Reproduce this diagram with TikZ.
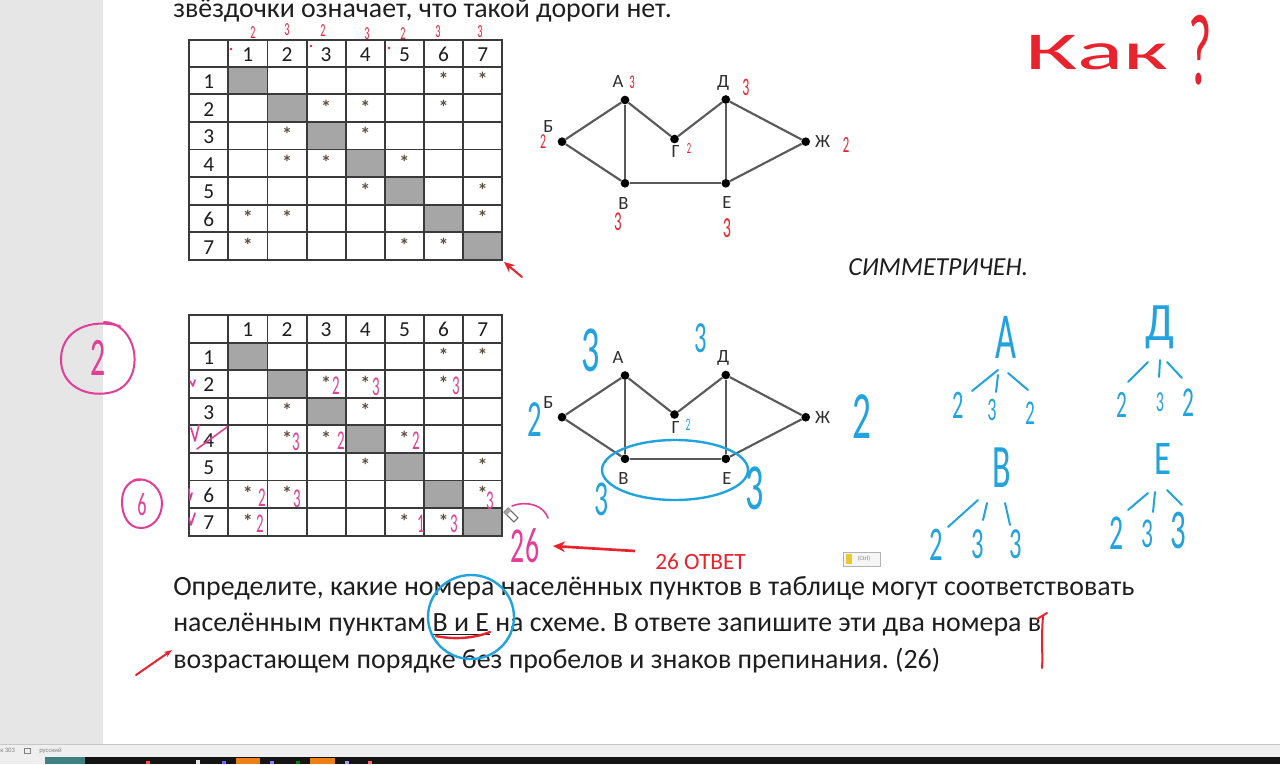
\documentclass[tikz,border=0pt]{standalone}
\usepackage{fontspec}
\usepackage{graphicx}
\setmainfont{Carlito}
\frenchspacing
\usetikzlibrary{arrows.meta}
\definecolor{pagegray}{HTML}{E6E6E6}
\definecolor{statusc}{HTML}{EFEFEF}
\definecolor{cellgray}{HTML}{A6A6A6}
\definecolor{gridc}{HTML}{3A3A3A}
\definecolor{edgec}{HTML}{5A5A5A}
\definecolor{labc}{HTML}{2E2E2E}
\definecolor{txt}{HTML}{1E1E1E}
\definecolor{starc}{HTML}{5E4E3E}
\definecolor{hred}{HTML}{E8232E}
\definecolor{hpink}{HTML}{E23D97}
\definecolor{hblue}{HTML}{22A3DD}
\newcommand{\hw}[2]{\scalebox{0.8}[1.45]{\fontsize{#1}{#1}\selectfont #2}}
\newcommand{\drawtable}[4]{%
  \foreach \k in {1,...,7} {
    \fill[cellgray] ({228.3+(\k-1)*39.14},{#3+(\k-1)*#4}) rectangle ++(39.14,#4);
  }
  \foreach \k in {0,...,6} {
    \draw[gridc, line width=1.4pt] (189.3,{#3+\k*#4}) -- (502.3,{#3+\k*#4});
  }
  \foreach \k in {0,...,6} {
    \draw[gridc, line width=1.4pt] ({228.3+\k*39.14},#2) -- ({228.3+\k*39.14},{#3+7*#4});
  }
  \draw[gridc, line width=1.4pt] (189.3,#2) rectangle (502.3,{#3+7*#4});
  \foreach \k in {1,...,7} {
    \node[tnum] (#1c\k) at ({228.3+(\k-0.5)*39.14},{(#2+#3)/2+1}) {\k};
    \node[tnum] (#1r\k) at (208.8,{#3+(\k-0.5)*#4+1}) {\k};
  }
  \foreach \r/\c in {1/6,1/7,2/3,2/4,2/6,3/2,3/4,4/2,4/3,4/5,5/4,5/7,6/1,6/2,6/7,7/1,7/5,7/6} {
    \node[astx] (#1s\r\c) at ({228.3+(\c-0.5)*39.14},{#3+(\r-0.5)*#4-1}) {*};
  }
}
\newcommand{\drawgraph}[1]{%
  \node[gdot] (#1A) at (625,100) {};
  \node[gdot] (#1B) at (562,141.7) {};
  \node[gdot] (#1G) at (674.5,139) {};
  \node[gdot] (#1D) at (725.8,99.5) {};
  \node[gdot] (#1Z) at (805.7,141.7) {};
  \node[gdot] (#1V) at (625,183.3) {};
  \node[gdot] (#1E) at (725.8,183.3) {};
  \draw[gedge] (#1B) -- (#1A);
  \draw[gedge] (#1B) -- (#1V);
  \draw[gedge] (#1A) -- (#1V);
  \draw[gedge] (#1A) -- (#1G);
  \draw[gedge] (#1G) -- (#1D);
  \draw[gedge] (#1D) -- (#1E);
  \draw[gedge] (#1D) -- (#1Z);
  \draw[gedge] (#1Z) -- (#1E);
  \draw[gedge] (#1V) -- (#1E);
  \node[glab] (#1Al) at (618,82) {А};
  \node[glab] (#1Dl) at (723,82.5) {Д};
  \node[glab] (#1Bl) at (548.5,127) {Б};
  \node[glab] (#1Gl) at (675.5,152) {Г};
  \node[glab] (#1Zl) at (822.5,142) {Ж};
  \node[glab] (#1Vl) at (623.5,203.5) {В};
  \node[glab] (#1El) at (727,203) {Е};
}
\begin{document}
\begin{tikzpicture}[x=0.75pt,y=-0.75pt,
  hr/.style={text=hred, inner sep=0pt},
  hp/.style={text=hpink, inner sep=0pt},
  hb/.style={text=hblue, inner sep=0pt},
  hline/.style={line width=1.5pt, line cap=round, line join=round},
  tnum/.style={text=txt, inner sep=0pt, font=\fontsize{16}{16}\selectfont},
  astx/.style={text=starc, inner sep=0pt, font=\fontsize{15}{15}\selectfont\bfseries},
  gdot/.style={circle, fill=black, inner sep=0pt, minimum size=6.5pt},
  gedge/.style={draw=edgec, line width=1.6pt},
  glab/.style={text=labc, inner sep=0pt, font=\fontsize{14}{14}\selectfont},
  body/.style={anchor=base west, inner sep=0pt, text=txt, font=\fontsize{20.9}{20.9}\selectfont},
]
\useasboundingbox (0,0) rectangle (1280,764);
\fill[white] (0,0) rectangle (1280,764);
\fill[pagegray] (0,0) rectangle (102.7,744);
% status bar and taskbar
\fill[statusc] (0,744) rectangle (1280,757);
\draw[gray!45, line width=0.6pt] (0,744.3) -- (1280,744.3);
\fill[black!92] (85,757) rectangle (1280,764);
\fill[statusc] (0,757) rectangle (45,764);
\fill[teal!50!gray] (45,757) rectangle (85,764);
\fill[orange!70!brown] (236,757.5) rectangle (260,764);
\fill[orange!70!brown] (310,757.5) rectangle (335,764);
\fill[red!70] (146,761) rectangle (150,764);
\fill[blue!60] (222,761) rectangle (226,764);
\fill[white!80!gray] (196,760) rectangle (200,764);
\fill[blue!50] (270,761) rectangle (274,764);
\fill[green!50!black] (296,761) rectangle (300,764);
\fill[blue!40] (345,761) rectangle (349,764);
\fill[red!60] (368,761) rectangle (372,764);
\node[anchor=west, inner sep=0pt, text=gray, font=\fontsize{5}{5}\selectfont] (sb1) at (0,750.5) {к 303};
\draw[gray, line width=0.4pt] (24,748) rectangle (30,753);
\node[anchor=west, inner sep=0pt, text=gray, font=\fontsize{5}{5}\selectfont] (sb2) at (39,750.5) {русский};

% top text (clipped at top)
\node[body] (toptext) at (173,17) {звёздочки означает, что такой дороги нет.};

% tables
\drawtable{t}{40}{66.7}{27.61}
\drawtable{b}{315}{342.7}{27.57}

% graphs
\drawgraph{t}
\begin{scope}[shift={(0,275.5)}]
\drawgraph{b}
\end{scope}

% red annotations on the top table
\foreach \x/\y/\d [count=\i] in {253/33/2,287/30/3,323/31/2,367/34/3,403/34/2,438/32/3,480/32/3} {
  \node[hr] (rc\i) at (\x,\y) {\hw{9.5}{\d}};
}
\foreach \x/\y [count=\i] in {231/49,311/46,389/48} {
  \fill[hred] (\x,\y) circle (1.4);
}
\coordinate (tarr0) at (522,277);
\coordinate (tarr1) at (504,262);
\draw[hred, hline, -{Stealth[length=8pt,width=7pt]}] (tarr0) -- (tarr1);

% red annotations on the top graph
\node[hr] (ra1) at (632,82) {\hw{10}{3}};
\node[hr] (ra2) at (746,87) {\hw{13}{3}};
\node[hr] (ra3) at (543,142) {\hw{11}{2}};
\node[hr] (ra4) at (689,148) {\hw{8}{2}};
\node[hr] (ra5) at (846,145) {\hw{12}{2}};
\node[hr] (ra6) at (618,222) {\hw{14}{3}};
\node[hr] (ra7) at (727,228) {\hw{15}{3}};

% Как?
\node[hr] (kak) at (1097,53) {\scalebox{1.9}[1.05]{\fontsize{38}{38}\selectfont Как}};
\node[hr] (qm) at (1200,50) {\scalebox{0.5}[1]{\fontsize{76}{76}\selectfont ?}};

% СИММЕТРИЧЕН.
\node[anchor=base west, inner sep=0pt, text=txt, font=\fontsize{19.5}{19.5}\selectfont\itshape] (sym) at (848,275) {СИММЕТРИЧЕН.};

% pink circled numbers
\node[hp] (c2) at (98,358) {\hw{28}{2}};
\draw[hpink, hline] (120,326) .. controls (90,318) and (62,330) .. (61,358) .. controls (60,385) and (85,397) .. (108,393) .. controls (128,390) and (137,372) .. (134,352) .. controls (131,334) and (118,322) .. (104,322);
\node[hp] (c6) at (142,505) {\hw{17}{6}};
\draw[hpink, hline] (134,480) .. controls (150,476) and (162,490) .. (162,503) .. controls (162,518) and (152,528) .. (141,528) .. controls (128,528) and (122,515) .. (122,502) .. controls (122,488) and (130,479) .. (140,480);

% pink marks on the bottom table
\draw[hpink, hline, line width=1.2pt] (190,381) -- (193,386) -- (195,380);
\draw[hpink, hline, line width=1.2pt] (191,428) -- (195,441) -- (199,425);
\draw[hpink, hline, line width=1.2pt] (197,449) -- (227,427);
\draw[hpink, hline, line width=1.2pt] (189,489) -- (190,500) -- (192,493);
\draw[hpink, hline, line width=1.2pt] (189,518) -- (191,525) -- (195,513);
\foreach \x/\y/\d [count=\i] in {336/386/2,376/387/3,456/386/3,296/442/3,341/441/2,416/441/2,262/498/2,297/499/3,490/501/3,260/524/2,421/524/1,454/524/3} {
  \node[hp] (pd\i) at (\x,\y) {\hw{14}{\d}};
}
% pen cursor
\begin{scope}[shift={(511,515)}, rotate=-45]
  \filldraw[fill=white, draw=gray!80!black, line width=0.8pt] (-7,-3) rectangle (7,3);
  \fill[gray!70] (-7,-3) rectangle (-3,3);
\end{scope}
\draw[hpink, hline, line width=1.2pt] (512,506) .. controls (528,500) and (544,506) .. (548,518);

% answer 26
\node[hp] (ans) at (525,546) {\hw{26}{26}};
\coordinate (aa0) at (635,551);
\coordinate (aa1) at (553,546);
\draw[hred, line width=2pt, -{Stealth[length=9pt,width=8pt]}] (aa0) -- (aa1);
\node[anchor=base west, inner sep=0pt, text=hred, font=\fontsize{17.5}{17.5}\selectfont] (otvet) at (655,569.5) {26 ОТВЕТ};
% paste icon
\draw[gray!60, line width=0.5pt, fill=gray!8] (843,552) rectangle (880,566);
\fill[yellow!60!brown] (846,554) rectangle (852,564);
\node[inner sep=0pt, text=gray, font=\fontsize{4.5}{4.5}\selectfont] (ctrl) at (864,559) {(Ctrl)};

% blue annotations on the bottom graph
\draw[hblue, line width=1.8pt] (675,470) ellipse [x radius=73, y radius=30];
\node[hb] (bg1) at (591,350) {\hw{34}{3}};
\node[hb] (bg2) at (701,338) {\hw{23}{3}};
\node[hb] (bg3) at (535,420) {\hw{27}{2}};
\node[hb] (bg4) at (862,417) {\hw{35}{2}};
\node[hb] (bg5) at (688,425) {\hw{9}{2}};
\node[hb] (bg6) at (602,499) {\hw{26}{3}};
\node[hb] (bg7) at (755,488) {\hw{34}{3}};

% blue trees
\node[hb] (trA) at (1006,337) {\hw{34}{А}};
\draw[hblue, hline] (998,370) -- (972,391);
\draw[hblue, hline] (998,375) -- (996,392);
\draw[hblue, hline] (1008,373) -- (1028,390);
\node[hb] (trA1) at (958,405) {\hw{21}{2}};
\node[hb] (trA2) at (992,410) {\hw{17}{3}};
\node[hb] (trA3) at (1030,413) {\hw{18}{2}};

\node[hb] (trD) at (1160,327) {\scalebox{1.5}[1]{\hw{28}{Д}}};
\draw[hblue, hline] (1148,362) -- (1128,382);
\draw[hblue, hline] (1160,360) -- (1159,377);
\draw[hblue, hline] (1167,362) -- (1182,378);
\node[hb] (trD1) at (1122,405) {\hw{20}{2}};
\node[hb] (trD2) at (1160,402) {\hw{15}{3}};
\node[hb] (trD3) at (1188,403) {\hw{22}{2}};

\node[hb] (trV) at (1002,468) {\hw{32}{В}};
\draw[hblue, hline] (978,500) -- (948,527);
\draw[hblue, hline] (987,503) -- (983,520);
\draw[hblue, hline] (1005,503) -- (1010,525);
\node[hb] (trV1) at (936,545) {\hw{25}{2}};
\node[hb] (trV2) at (978,544) {\hw{23}{3}};
\node[hb] (trV3) at (1016,544) {\hw{23}{3}};

\node[hb] (trE) at (1163,459) {\scalebox{1.3}[1]{\hw{25}{Е}}};
\draw[hblue, hline] (1148,493) -- (1128,510);
\draw[hblue, hline] (1155,492) -- (1153,512);
\draw[hblue, hline] (1167,490) -- (1182,505);
\node[hb] (trE1) at (1117,533) {\hw{26}{2}};
\node[hb] (trE2) at (1147,534) {\hw{22}{3}};
\node[hb] (trE3) at (1178,530) {\hw{29}{3}};

% bottom text
\node[body] (l1) at (173,595) {Определите, какие номера населённых пунктов в таблице могут соответствовать};
\node[body] (l2) at (173,631) {населённым пунктам В и Е на схеме. В ответе запишите эти два номера в};
\node[body] (l3) at (173,668) {возрастающем порядке без пробелов и знаков препинания. (26)};
\draw[txt, line width=0.8pt] (433,634.5) -- (490,634.5);
\draw[hred, hline, line width=1.8pt] (436,636) .. controls (455,640) and (475,638) .. (490,632);
\draw[hblue, line width=1.8pt] (471,617) ellipse [x radius=43, y radius=42];
\coordinate (la0) at (136,675);
\coordinate (la1) at (172,650);
\draw[hred, hline, -{Stealth[length=6pt]}] (la0) -- (la1);
\draw[hred, hline] (1037,619) -- (1047,613);
\draw[hred, hline] (1043,616) .. controls (1041,640) and (1043,655) .. (1042,668);
\end{tikzpicture}
\end{document}
